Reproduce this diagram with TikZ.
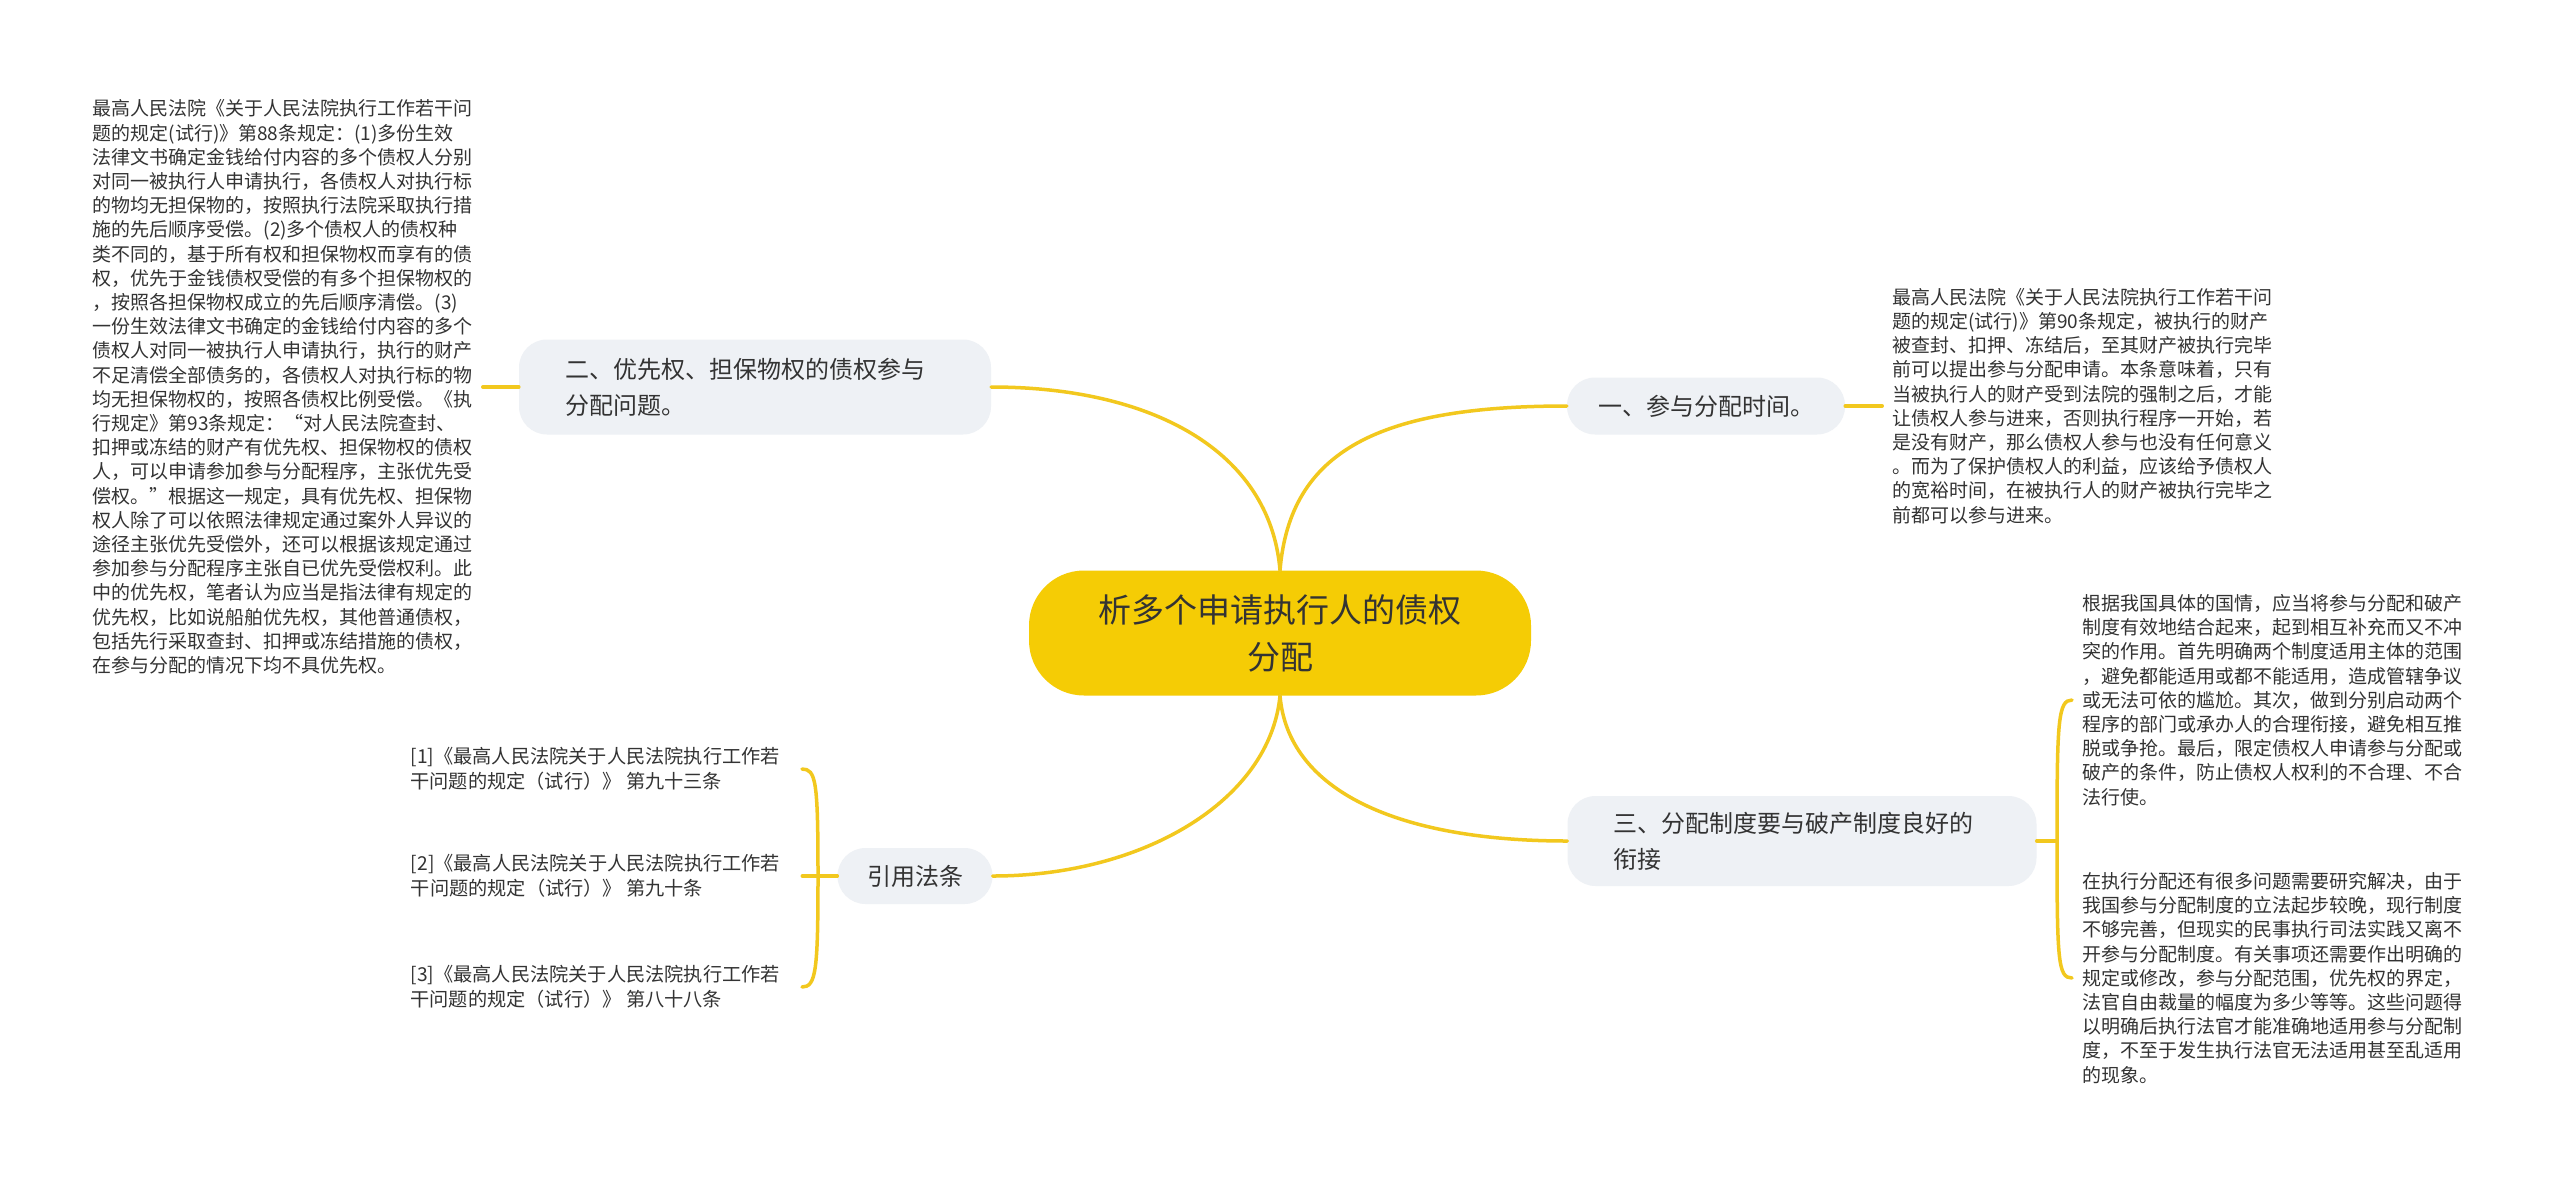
\documentclass[tikz,border=0pt]{standalone}
\usepackage{fontspec}
\setmainfont{Noto Sans CJK SC}
\usetikzlibrary{positioning}

\begin{document}
\begin{tikzpicture}[x=1pt,y=-1pt,
    link/.style={draw=linkcolor,line width=3.5pt,line cap=round},
    root/.style={fill=rootfill,text=ink,rounded corners=55pt,minimum width=502pt,minimum height=125pt,align=center,font=\fontsize{33pt}{47pt}\selectfont},
    branch/.style={fill=branchfill,text=ink,rounded corners=28pt,inner xsep=46pt,align=left,font=\fontsize{24pt}{36pt}\selectfont},
    leaf/.style={text=ink,align=left,inner xsep=10pt,inner ysep=0pt,font=\fontsize{19pt}{24.2pt}\selectfont},
    refleaf/.style={leaf,inner xsep=22pt,font=\fontsize{19.2pt}{25pt}\selectfont}]
		    \definecolor{rootfill}{HTML}{F5CC05}
		    \definecolor{branchfill}{HTML}{EEF1F5}
		    \definecolor{linkcolor}{HTML}{F2C81E}
		    \definecolor{ink}{HTML}{333333}
		    \fill[white] (0,0) rectangle (2560,1184);
		    \useasboundingbox (0,0) rectangle (2560,1184);

		    \node[root] (root) at (1280,633) {析多个申请执行人的债权\\分配};
		    \node[branch,minimum width=278pt,minimum height=57pt,inner xsep=30pt] (sec1) at (1706,406) {一、参与分配时间。};
		    \node[branch,text width=380pt,minimum height=95pt] (sec2) at (755,387) {二、优先权、担保物权的债权参与\\分配问题。};
		    \node[branch,text width=377pt,minimum height=90pt] (sec3) at (1802,841) {三、分配制度要与破产制度良好的\\衔接};
		    \node[branch,minimum width=155pt,minimum height=56pt,inner xsep=28pt] (refs) at (915,876) {引用法条};

		    \node[leaf,right=37pt of sec1] (sec1text) {最高人民法院《关于人民法院执行工作若干问\\题的规定(试行)》第90条规定，被执行的财产\\被查封、扣押、冻结后，至其财产被执行完毕\\前可以提出参与分配申请。本条意味着，只有\\当被执行人的财产受到法院的强制之后，才能\\让债权人参与进来，否则执行程序一开始，若\\是没有财产，那么债权人参与也没有任何意义\\。而为了保护债权人的利益，应该给予债权人\\的宽裕时间，在被执行人的财产被执行完毕之\\前都可以参与进来。};
		    \node[leaf,left=36pt of sec2] (sec2text) {最高人民法院《关于人民法院执行工作若干问\\题的规定(试行)》第88条规定：(1)多份生效\\法律文书确定金钱给付内容的多个债权人分别\\对同一被执行人申请执行，各债权人对执行标\\的物均无担保物的，按照执行法院采取执行措\\施的先后顺序受偿。(2)多个债权人的债权种\\类不同的，基于所有权和担保物权而享有的债\\权，优先于金钱债权受偿的有多个担保物权的\\，按照各担保物权成立的先后顺序清偿。(3)\\一份生效法律文书确定的金钱给付内容的多个\\债权人对同一被执行人申请执行，执行的财产\\不足清偿全部债务的，各债权人对执行标的物\\均无担保物权的，按照各债权比例受偿。《执\\行规定》第93条规定：“对人民法院查封、\\扣押或冻结的财产有优先权、担保物权的债权\\人，可以申请参加参与分配程序，主张优先受\\偿权。”根据这一规定，具有优先权、担保物\\权人除了可以依照法律规定通过案外人异议的\\途径主张优先受偿外，还可以根据该规定通过\\参加参与分配程序主张自已优先受偿权利。此\\中的优先权，笔者认为应当是指法律有规定的\\优先权，比如说船舶优先权，其他普通债权，\\包括先行采取查封、扣押或冻结措施的债权，\\在参与分配的情况下均不具优先权。};
		    \coordinate (fork3) at (2057,841);
		    \node[leaf,anchor=west] (sec3texta) at (2072,700) {根据我国具体的国情，应当将参与分配和破产\\制度有效地结合起来，起到相互补充而又不冲\\突的作用。首先明确两个制度适用主体的范围\\，避免都能适用或都不能适用，造成管辖争议\\或无法可依的尴尬。其次，做到分别启动两个\\程序的部门或承办人的合理衔接，避免相互推\\脱或争抢。最后，限定债权人申请参与分配或\\破产的条件，防止债权人权利的不合理、不合\\法行使。};
		    \node[leaf,anchor=west] (sec3textb) at (2072,978) {在执行分配还有很多问题需要研究解决，由于\\我国参与分配制度的立法起步较晚，现行制度\\不够完善，但现实的民事执行司法实践又离不\\开参与分配制度。有关事项还需要作出明确的\\规定或修改，参与分配范围，优先权的界定，\\法官自由裁量的幅度为多少等等。这些问题得\\以明确后执行法官才能准确地适用参与分配制\\度，不至于发生执行法官无法适用甚至乱适用\\的现象。};
		    \coordinate (forkrefs) at (818,876);
		    \node[refleaf,anchor=east] (refa) at (802,769) {[1]《最高人民法院关于人民法院执行工作若\\干问题的规定（试行）》 第九十三条};
		    \node[refleaf,left=35pt of refs] (refb) {[2]《最高人民法院关于人民法院执行工作若\\干问题的规定（试行）》 第九十条};
		    \node[refleaf,anchor=east] (refc) at (802,987) {[3]《最高人民法院关于人民法院执行工作若\\干问题的规定（试行）》 第八十八条};

		    \draw[link] (root.north) .. controls +(10,-120) and +(-187,0) .. (sec1.west);
		    \draw[link] (root.north) .. controls +(-10,-120) and +(160,0) .. (sec2.east);
		    \draw[link] (root.south) .. controls +(8,95) and +(-170,0) .. (sec3.west);
		    \draw[link] (root.south) .. controls +(-10,105) and +(150,0) .. (refs.east);
		    \draw[link] (sec1.east) -- (sec1text.west);
		    \draw[link] (sec2.west) -- (sec2text.east);
		    \draw[link] (sec3.east) -- (fork3);
		    \draw[link] (sec3texta.west) .. controls +(-14,0) and +(0,-120) .. (fork3) .. controls +(0,120) and +(-14,0) .. (sec3textb.west);
		    \draw[link] (refs.west) -- (refb.east);
		    \draw[link] (refa.east) .. controls +(14,0) and +(0,-95) .. (forkrefs) .. controls +(0,95) and +(14,0) .. (refc.east);
\end{tikzpicture}
\end{document}
